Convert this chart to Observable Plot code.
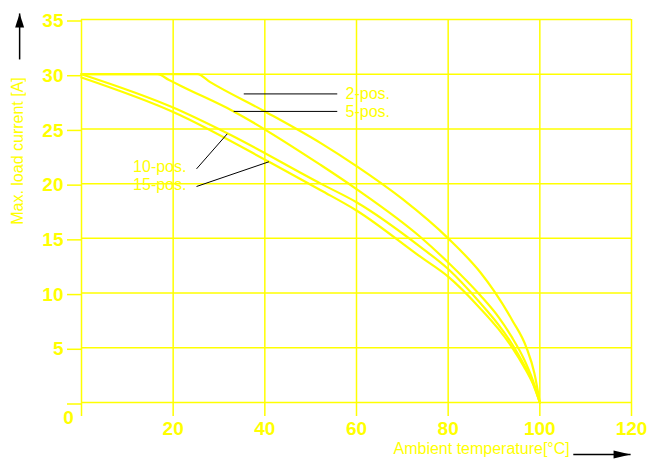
<!DOCTYPE html>
<html><head><meta charset="utf-8">
<script src="https://cdn.jsdelivr.net/npm/d3@7"></script>
<script src="https://cdn.jsdelivr.net/npm/@observablehq/plot@0.6"></script>
<style>body{margin:0;background:#fff;}</style>
</head><body><div id="chart"></div>
<script>
// ---- data ----
const xTicks = [0, 20, 40, 60, 80, 100, 120];
const yTicks = [0, 5, 10, 15, 20, 25, 30, 35];

const temp2 = [0, 25.3, 28, 40, 52.2, 60, 70, 80, 87, 90, 94, 97.1, 98.8, 100];
const load2 = [30, 30, 29.3, 26.6, 23.7, 21.6, 18.6, 15.0, 11.9, 10.2, 7.5, 5.0, 2.7, 0];

const temp5 = [0, 16.6, 19, 21.6, 33.2, 52.2, 60, 74, 80, 87, 91, 94, 96.5, 98.5, 100];
const load5 = [30, 30, 29.5, 28.95, 26.6, 21.7, 19.5, 15.1, 12.8, 9.8, 7.8, 5.9, 4.0, 2.0, 0];

const temp10 = [0, 20, 31.8, 52.2, 60, 74, 80, 87, 91, 94, 96.5, 98.5, 100];
const load10 = [30, 26.95, 24.6, 20.0, 18.3, 14.2, 12.2, 9.1, 7.1, 5.3, 3.5, 1.8, 0];

const temp15 = [0, 20, 40.9, 52.2, 60, 74, 80, 87, 91, 94, 96.5, 98.5, 100];
const load15 = [29.7, 26.55, 22.0, 19.4, 17.55, 13.3, 11.5, 8.6, 6.7, 5.0, 3.3, 1.7, 0];

const seriesNames = ["2-pos.", "5-pos.", "10-pos.", "15-pos."];

// annotation labels and leader lines
const labelX = [57.6, 57.6, 22.9, 22.9];
const labelY = [28.2, 26.6, 21.5, 19.9];
const labelSide = ["right", "right", "left", "left"];
const leaderX1 = [35.4, 33.2, 25.1, 25.1];
const leaderY1 = [28.2, 26.6, 21.35, 19.74];
const leaderX2 = [55.8, 55.8, 31.8, 40.9];
const leaderY2 = [28.2, 26.6, 24.55, 22.0];

const yTitle = "Max. load current [A]";
const xTitle = "Ambient temperature[°C]";

// axis arrows (data coordinates)
const arrowY = {x1: -13.5, y1: 31.35, x2: -13.5, y2: 35.55};
const arrowX = {x1: 107.3, y1: -4.75, x2: 119.8, y2: -4.75};

// ---- build ----
const YEL = "#ffff00";
const rows = [];
[[temp2, load2], [temp5, load5], [temp10, load10], [temp15, load15]].forEach(([xs, ys], k) =>
  xs.forEach((t, i) => rows.push({t, a: ys[i], s: seriesNames[k]})));

const labels = seriesNames.map((n, i) => ({n, x: labelX[i], y: labelY[i], side: labelSide[i]}));
const leaders = seriesNames.map((n, i) => ({x1: leaderX1[i], y1: leaderY1[i], x2: leaderX2[i], y2: leaderY2[i]}));

const head = (w, l) => ({draw(ctx) { ctx.moveTo(0, 0); ctx.lineTo(-w / 2, l); ctx.lineTo(w / 2, l); ctx.closePath(); }});

const fmt = d => d === 0 ? "" : String(d);

const plot = Plot.plot({
  width: 648,
  height: 462,
  marginLeft: 81,
  marginRight: 17,
  marginTop: 19,
  marginBottom: 60,
  x: {domain: [0, 120]},
  y: {domain: [0, 35]},
  style: {fontFamily: "'Liberation Sans', Arial, sans-serif", background: "white", color: YEL},
  marks: [
    Plot.gridX({ticks: xTicks, stroke: YEL, strokeOpacity: 1, strokeWidth: 1.5}),
    Plot.gridY({ticks: yTicks, stroke: YEL, strokeOpacity: 1, strokeWidth: 1.5}),
    Plot.axisX({ticks: xTicks, tickSize: 14, tickPadding: 5, tickFormat: fmt, stroke: YEL, fill: YEL,
      strokeWidth: 1.5, fontSize: 19, fontWeight: "bold", label: null}),
    Plot.axisY({ticks: yTicks, tickSize: 14, tickPadding: 4, tickFormat: fmt, stroke: YEL, fill: YEL,
      strokeWidth: 1.5, fontSize: 19, fontWeight: "bold", dy: 1.5, label: null}),
    Plot.text(["0"], {x: () => 0, y: () => 0, dx: -13, dy: 15, fill: YEL, fontSize: 19, fontWeight: "bold"}),
    Plot.line(rows, {x: "t", y: "a", z: "s", stroke: YEL, strokeWidth: 2.2, curve: "monotone-x"}),
    Plot.link(leaders, {x1: "x1", y1: "y1", x2: "x2", y2: "y2", stroke: "black", strokeWidth: 1}),
    Plot.text(labels.filter(d => d.side === "right"), {x: "x", y: "y", text: "n", textAnchor: "start", fill: YEL, fontSize: 16}),
    Plot.text(labels.filter(d => d.side === "left"), {x: "x", y: "y", text: "n", textAnchor: "end", fill: YEL, fontSize: 16}),
    Plot.text([yTitle], {frameAnchor: "left", textAnchor: "middle", dx: -64, dy: -60, rotate: -90, fill: YEL, fontSize: 16}),
    Plot.text([xTitle], {frameAnchor: "bottom-left", textAnchor: "start", dx: 312, dy: 51, fill: YEL, fontSize: 16}),
    Plot.link([arrowY, arrowX], {x1: "x1", y1: "y1", x2: "x2", y2: "y2", stroke: "black", strokeWidth: 1.5}),
    Plot.dot([arrowY], {x: "x2", y: "y2", symbol: head(9, 14), fill: "black", stroke: null, r: 5}),
    Plot.dot([arrowX], {x: "x2", y: "y2", symbol: head(8, 17), fill: "black", stroke: null, r: 5, rotate: 90})
  ]
});
document.getElementById("chart").appendChild(plot);
</script></body></html>
